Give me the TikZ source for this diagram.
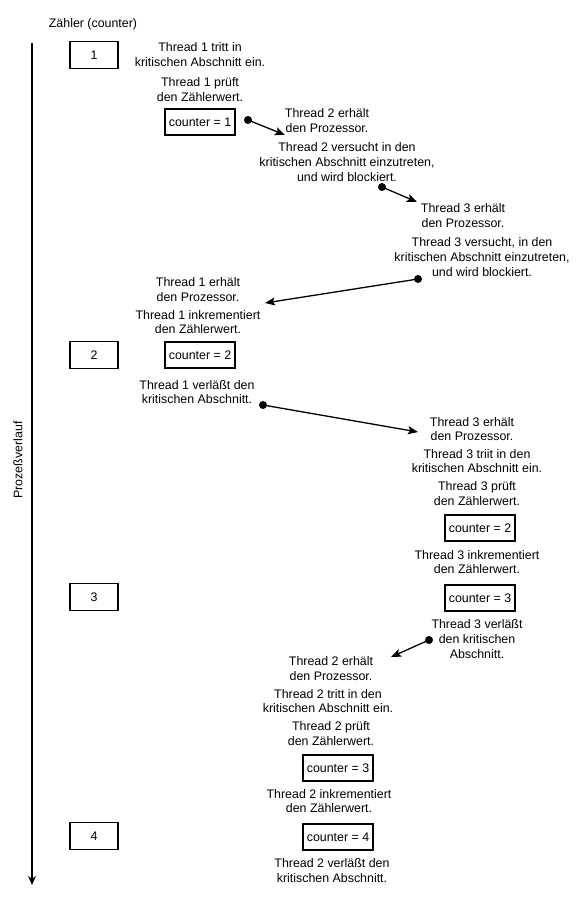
\documentclass[tikz,border=0pt]{standalone}
\usepackage{fontspec}
\setmainfont{Liberation Sans}
\usetikzlibrary{arrows.meta}
\newcommand\myfs{\fontsize{12.4}{14.6}\selectfont}
\begin{document}
\begin{tikzpicture}[x=1pt,y=-1pt,
  txt/.style={align=center,inner sep=0pt,font=\myfs},
  cbox/.style={draw,line width=1.4pt,minimum width=70pt,minimum height=26pt,inner sep=0pt,font=\myfs},
  nbox/.style={draw,line width=1.4pt,minimum width=48pt,minimum height=27pt,inner sep=0pt,font=\myfs},
  dotn/.style={circle,fill,inner sep=0pt,minimum size=8pt},
  conn/.style={line width=1.3pt,-{Stealth[length=10pt,width=8pt,inset=2pt]}},
  axis/.style={line width=1.8pt,-{Stealth[length=9pt,width=8pt]}}]
\useasboundingbox (0,0) rectangle (580,905);

\node[txt] (title) at (93,24) {Zähler (counter)};
\coordinate (axtop) at (32,43);
\coordinate (axbot) at (32,885);
\draw[axis] (axtop) -- (axbot);
\node[txt,rotate=90] (prog) at (18,460) {Prozeßverlauf};

\node[nbox] (n1) at (94,55) {1};
\node[nbox] (n2) at (94,355) {2};
\node[nbox] (n3) at (94,597) {3};
\node[nbox] (n4) at (94,836) {4};

% Thread 1 start
\node[txt] (t1a) at (200,54.5) {Thread 1 tritt in\\kritischen Abschnitt ein.};
\node[txt] (t1b) at (200,89.5) {Thread 1 prüft\\den Zählerwert.};
\node[cbox] (c1) at (200,122) {counter = 1};
\node[dotn] (d1) at (248,120) {};
\coordinate (e1) at (285,135);
\draw[conn] (d1.center) -- (e1);

% Thread 2 blocked
\node[txt] (t2a) at (327,120.5) {Thread 2 erhält\\den Prozessor.};
\node[txt] (t2b) at (347,162) {Thread 2 versucht in den\\kritischen Abschnitt einzutreten,\\und wird blockiert.};
\node[dotn] (d2) at (382,187) {};
\coordinate (e2) at (417,202);
\draw[conn] (d2.center) -- (e2);

% Thread 3 blocked
\node[txt] (t3a) at (463,215.5) {Thread 3 erhält\\den Prozessor.};
\node[txt] (t3b) at (482,257) {Thread 3 versucht, in den\\kritischen Abschnitt einzutreten,\\und wird blockiert.};
\node[dotn] (d3) at (418,279) {};
\coordinate (e3) at (265,303);
\draw[conn] (d3.center) -- (e3);

% Thread 1 continues
\node[txt] (t1c) at (198,289.5) {Thread 1 erhält\\den Prozessor.};
\node[txt] (t1d) at (198,322) {Thread 1 inkrementiert\\den Zählerwert.};
\node[cbox] (c2) at (200,355) {counter = 2};
\node[txt] (t1e) at (197,392) {Thread 1 verläßt den\\kritischen Abschnitt.};
\node[dotn] (d4) at (263,405) {};
\coordinate (e4) at (418,432);
\draw[conn] (d4.center) -- (e4);

% Thread 3 continues
\node[txt] (t3c) at (472,429) {Thread 3 erhält\\den Prozessor.};
\node[txt] (t3d) at (477,461) {Thread 3 triit in den\\kritischen Abschnitt ein.};
\node[txt] (t3e) at (477,493.5) {Thread 3 prüft\\den Zählerwert.};
\node[cbox] (c3a) at (480,528) {counter = 2};
\node[txt] (t3f) at (477,562) {Thread 3 inkrementiert\\den Zählerwert.};
\node[cbox] (c3b) at (480,598) {counter = 3};
\node[txt] (t3g) at (477,639) {Thread 3 verläßt\\den kritischen\\Abschnitt.};
\node[dotn] (d5) at (429,640) {};
\coordinate (e5) at (391,657);
\draw[conn] (d5.center) -- (e5);

% Thread 2 continues
\node[txt] (t2c) at (331,668.5) {Thread 2 erhält\\den Prozessor.};
\node[txt] (t2d) at (328,701) {Thread 2 tritt in den\\kritischen Abschnitt ein.};
\node[txt] (t2e) at (331,733.5) {Thread 2 prüft\\den Zählerwert.};
\node[cbox] (c4a) at (338,768) {counter = 3};
\node[txt] (t2f) at (329,801) {Thread 2 inkrementiert\\den Zählerwert.};
\node[cbox] (c4b) at (338,837) {counter = 4};
\node[txt] (t2g) at (332,870.5) {Thread 2 verläßt den\\kritischen Abschnitt.};
\end{tikzpicture}
\end{document}
